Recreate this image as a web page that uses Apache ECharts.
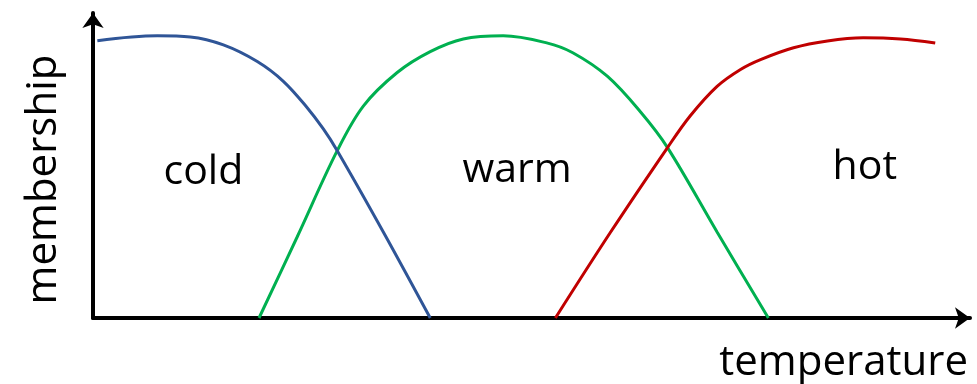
<!DOCTYPE html>
<html>
<head>
<meta charset="utf-8">
<script src="https://cdn.jsdelivr.net/npm/echarts@6/dist/echarts.min.js"></script>
<style>
  html, body { margin: 0; padding: 0; background: #fff; }
  #chart { width: 977px; height: 384px; }
</style>
</head>
<body>
<div id="chart"></div>
<script>
// membership curves (temperature 0-100, membership 0-1)
var coldTemp = [0.5, 7.4, 11.2, 15.0, 18.9, 21.9, 24.6, 26.5, 28.1, 33.4, 38.8];
var coldValue = [0.983, 1.0, 0.996, 0.968, 0.909, 0.839, 0.747, 0.67, 0.593, 0.305, 0];

var warmTemp = [19.1, 23.5, 28.1, 31.1, 35.0, 38.8, 42.6, 47.2, 52.2, 55.2, 59.2, 63.0, 66.1, 71.8, 77.7];
var warmValue = [0, 0.288, 0.593, 0.751, 0.87, 0.944, 0.989, 1.0, 0.975, 0.94, 0.856, 0.73, 0.604, 0.305, 0];

var hotTemp = [53.2, 59.5, 66.1, 68.7, 71.8, 74.5, 76.8, 80.6, 84.5, 88.6, 92.9, 96.9];
var hotValue = [0, 0.302, 0.604, 0.716, 0.821, 0.881, 0.916, 0.958, 0.982, 0.993, 0.989, 0.975];

var setNames = ["cold", "warm", "hot"];

function zip(xs, ys) {
  return xs.map(function (x, i) { return [x, ys[i]]; });
}

var chart = echarts.init(document.getElementById("chart"));
var font = "'Open Sans', 'Noto Sans', sans-serif";

var axisLine = {
  show: true,
  symbol: ["none", "arrow"],
  symbolSize: [16, 15],
  lineStyle: { color: "#000", width: 4 }
};

function curve(name, data, color, labelAt) {
  return {
    name: name,
    type: "line",
    data: data,
    smooth: 0.35,
    showSymbol: false,
    lineStyle: { color: color, width: 3 },
    markPoint: {
      symbol: "circle",
      symbolSize: 0,
      silent: true,
      label: {
        show: true,
        position: "inside",
        formatter: name,
        fontFamily: font,
        fontSize: 41,
        color: "#000"
      },
      data: [{ coord: labelAt }]
    }
  };
}

var option = {
  animation: false,
  grid: { left: 93, right: 7, top: 13, bottom: 63 },
  xAxis: {
    type: "value",
    min: 0,
    max: 100.9,
    name: "temperature",
    nameLocation: "end",
    nameGap: -2,
    nameTextStyle: {
      fontFamily: font,
      fontSize: 42,
      color: "#000",
      align: "right",
      verticalAlign: "top",
      padding: [24, 0, 0, 0]
    },
    axisLine: axisLine,
    axisTick: { show: false },
    axisLabel: { show: false },
    splitLine: { show: false }
  },
  yAxis: {
    type: "value",
    min: 0,
    max: 1.081,
    name: "membership",
    nameLocation: "middle",
    nameGap: 28,
    nameTextStyle: {
      fontFamily: font,
      fontSize: 42,
      color: "#000",
      padding: [0, 28, 0, 0]
    },
    axisLine: axisLine,
    axisTick: { show: false },
    axisLabel: { show: false },
    splitLine: { show: false }
  },
  series: [
    curve(setNames[1], zip(warmTemp, warmValue), "#00B050", [48.8, 0.523]),
    curve(setNames[0], zip(coldTemp, coldValue), "#2F5597", [12.7, 0.516]),
    curve(setNames[2], zip(hotTemp, hotValue), "#C00000", [88.8, 0.533])
  ]
};

option && chart.setOption(option);
</script>
</body>
</html>
